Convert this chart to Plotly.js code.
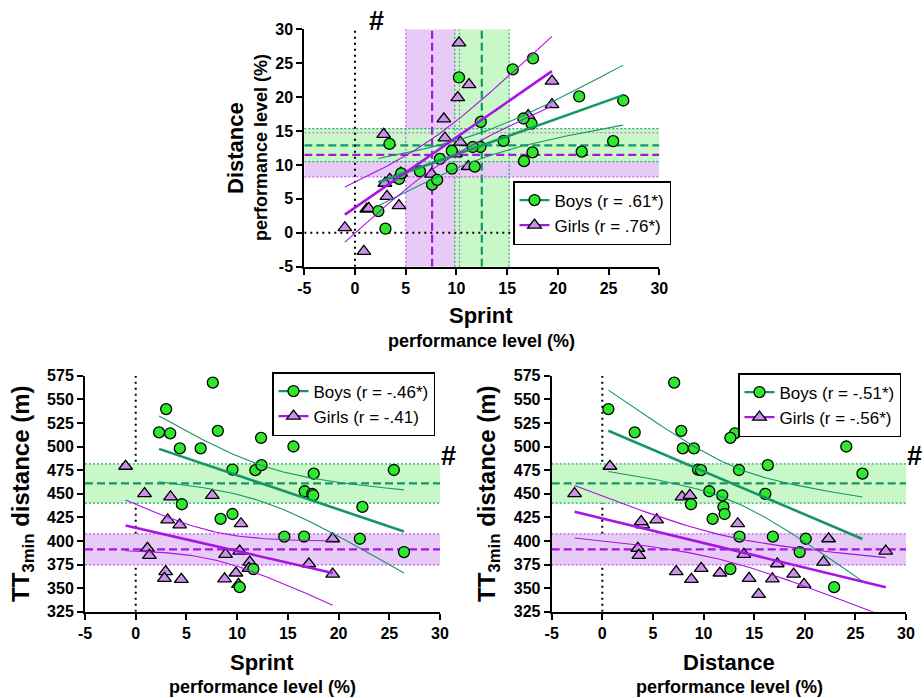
<!DOCTYPE html>
<html><head><meta charset="utf-8">
<script src="https://cdn.plot.ly/plotly-3.0.1.min.js"></script>
<style>html,body{margin:0;padding:0;background:#fff}#chart{width:924px;height:698px}</style>
</head><body><div id="chart"></div>
<script>
// ---------------- data ----------------
const boysSprint   = [7.6, 3.0, 2.3, 3.4, 8.1, 4.35, 6.4, 12.36, 15.55, 9.54, 11.8, 12.4, 17.55, 25.45, 16.66, 17.4, 17.5, 4.55, 22.35, 8.37, 9.54, 14.65, 16.6, 22.1, 26.45, 11.6, 10.25];
const boysDistance = [7.1, 0.6, 3.2, 13.1, 7.8, 7.95, 9.05, 12.65, 24.1, 9.45, 9.75, 16.35, 25.7, 13.5, 10.56, 16.1, 11.85, 8.76, 11.97, 10.9, 12.08, 13.55, 16.85, 20.1, 19.5, 12.65, 22.9];
const boysTT       = [567.7, 539.6, 515, 514, 516.6, 498, 498, 509.2, 500, 475.6, 474.9, 480.2, 471.3, 475.1, 452.6, 449.9, 448.3, 438.8, 436, 423.3, 428.5, 404.5, 404.5, 402.3, 388.2, 370.2, 351];

const girlsSprint   = [-1.0, 0.87, 3.43, 7.55, 3.15, 4.33, null, 10.38, 1.16, 1.35, 8.86, 10.25, 2.95, 2.83, 4.5, 8.76, 9.88, 10.13, 11.24, 11.16, 17.07, 19.42, 19.42, null];
const girlsDistance = [0.75, -2.74, 7.87, 8.65, 5.37, 4.0, 3.84, 13.38, 3.51, 3.61, 13.98, 28.0, 7.3, 14.5, 8.8, 16.8, 11.62, 19.93, 21.85, 9.77, 17.28, 22.35, 18.9, 15.44];
const girlsTT       = [479.1, 450.1, 446.6, 448.3, 422.2, 417, 420.5, 418.2, 392.2, 384.6, 385.7, 389.2, 367.5, 360.4, 359.3, 359.8, 366, 354, 377.5, 371, 375.8, 402.3, 364.8, 343.4];

// group reference lines: [lower 95% CI, mean, upper 95% CI]
const boysSprintRef    = [9.84, 12.5, 15.2];
const girlsSprintRef   = [5.0, 7.6, 10.3];
const boysDistanceRef  = [10.5, 12.9, 15.35];
const girlsDistanceRef = [8.25, 11.5, 14.75];
const boysTTRef        = [440, 461, 481.5];
const girlsTTRef       = [374.5, 391, 407.5];

const pctTicks = [-5, 0, 5, 10, 15, 20, 25, 30];
const ttTicks  = [325, 350, 375, 400, 425, 450, 475, 500, 525, 550, 575];
const boysLabels  = ['Boys (r = .61*)', 'Boys (r = -.46*)', 'Boys (r = -.51*)'];
const girlsLabels = ['Girls (r = .76*)', 'Girls (r = -.41)', 'Girls (r = -.56*)'];

// ---------------- styles ----------------
const FONT = 'Arial, "Liberation Sans", Helvetica, sans-serif';
const G = {fill: 'rgb(200,247,200)', edge: 'rgb(40,165,110)', line: 'rgb(22,150,100)', mk: 'rgb(45,232,45)'};
const P = {fill: 'rgb(232,202,246)', edge: 'rgb(190,90,240)', line: 'rgb(168,20,228)', mk: 'rgb(204,146,234)'};

// ---------------- helpers ----------------
function tCrit(df) {
  const z = 1.959964;
  const g1 = (Math.pow(z,3) + z) / 4;
  const g2 = (5*Math.pow(z,5) + 16*Math.pow(z,3) + 3*z) / 96;
  const g3 = (3*Math.pow(z,7) + 19*Math.pow(z,5) + 17*Math.pow(z,3) - 15*z) / 384;
  return z + g1/df + g2/(df*df) + g3/(df*df*df);
}
function fit(xs, ys) {
  const px = [], py = [];
  xs.forEach((x, i) => { if (x != null && ys[i] != null) { px.push(x); py.push(ys[i]); } });
  const n = px.length;
  const mx = px.reduce((a,b)=>a+b,0)/n, my = py.reduce((a,b)=>a+b,0)/n;
  let sxx = 0, sxy = 0;
  for (let i=0;i<n;i++){ sxx += (px[i]-mx)**2; sxy += (px[i]-mx)*(py[i]-my); }
  const b = sxy/sxx, a = my - b*mx;
  let sse = 0; for (let i=0;i<n;i++){ sse += (py[i]-a-b*px[i])**2; }
  const s = Math.sqrt(sse/(n-2)), t = tCrit(n-2);
  const lo = Math.min(...px), hi = Math.max(...px);
  const gx = [], gy = [], gu = [], gl = [];
  const N = 80;
  for (let k=0;k<=N;k++){
    const x = lo + (hi-lo)*k/N, y = a + b*x;
    const se = s*Math.sqrt(1/n + (x-mx)**2/sxx);
    gx.push(x); gy.push(y); gu.push(y + t*se); gl.push(y - t*se);
  }
  return {gx, gy, gu, gl};
}

const panels = [
  {xa:'x',  ya:'y',  bx:boysSprint,   by:boysDistance, gx:girlsSprint,   gy:girlsDistance, leg:'legend'},
  {xa:'x2', ya:'y2', bx:boysSprint,   by:boysTT,       gx:girlsSprint,   gy:girlsTT,       leg:'legend2'},
  {xa:'x3', ya:'y3', bx:boysDistance, by:boysTT,       gx:girlsDistance, gy:girlsTT,       leg:'legend3'}
];

const traces = [];
const shapes = [];

function bandH(p, ref, c, xr) {
  shapes.push({type:'rect', xref:p.xa, yref:p.ya, x0:xr[0], x1:xr[1], y0:ref[0], y1:ref[2], fillcolor:c.fill, line:{width:0}, layer:'below'});
}
function bandV(p, ref, c, yr) {
  shapes.push({type:'rect', xref:p.xa, yref:p.ya, y0:yr[0], y1:yr[1], x0:ref[0], x1:ref[2], fillcolor:c.fill, line:{width:0}, layer:'below'});
}
function linesH(p, ref, c, xr) {
  [ref[0], ref[2]].forEach(v => shapes.push({type:'line', xref:p.xa, yref:p.ya, x0:xr[0], x1:xr[1], y0:v, y1:v, line:{color:c.edge, width:1.2, dash:'2px,2px'}, layer:'below'}));
  shapes.push({type:'line', xref:p.xa, yref:p.ya, x0:xr[0], x1:xr[1], y0:ref[1], y1:ref[1], line:{color:c.line, width:2.2, dash:'8px,4px'}, layer:'below'});
}
function linesV(p, ref, c, yr) {
  [ref[0], ref[2]].forEach(v => shapes.push({type:'line', xref:p.xa, yref:p.ya, y0:yr[0], y1:yr[1], x0:v, x1:v, line:{color:c.edge, width:1.2, dash:'2px,2px'}, layer:'below'}));
  shapes.push({type:'line', xref:p.xa, yref:p.ya, y0:yr[0], y1:yr[1], x0:ref[1], x1:ref[1], line:{color:c.line, width:2.2, dash:'8px,4px'}, layer:'below'});
}
function zeroV(p, yr) {
  shapes.push({type:'line', xref:p.xa, yref:p.ya, x0:0, x1:0, y0:yr[0], y1:yr[1], line:{color:'black', width:2, dash:'2px,4px'}, layer:'below'});
}
function zeroH(p, xr) {
  shapes.push({type:'line', xref:p.xa, yref:p.ya, y0:0, y1:0, x0:xr[0], x1:xr[1], line:{color:'black', width:2, dash:'2px,4px'}, layer:'below'});
}

const XR = [-5, 30];
// top panel
bandV(panels[0], girlsSprintRef, P, [-5,30]);
bandV(panels[0], boysSprintRef, G, [-5,30]);
bandH(panels[0], girlsDistanceRef, P, XR);
bandH(panels[0], boysDistanceRef, G, XR);
linesV(panels[0], girlsSprintRef, P, [-5,30]);
linesV(panels[0], boysSprintRef, G, [-5,30]);
linesH(panels[0], girlsDistanceRef, P, XR);
linesH(panels[0], boysDistanceRef, G, XR);
zeroV(panels[0], [-5,30]);
zeroH(panels[0], XR);
// bottom panels
[panels[1], panels[2]].forEach(p => {
  zeroV(p, [325,575]);
  bandH(p, girlsTTRef, P, XR);
  bandH(p, boysTTRef, G, XR);
  linesH(p, girlsTTRef, P, XR);
  linesH(p, boysTTRef, G, XR);
});

panels.forEach((p, i) => {
  const common = {xaxis:p.xa, yaxis:p.ya, hoverinfo:'skip', showlegend:false};
  // data points
  traces.push(Object.assign({type:'scatter', mode:'markers', x:p.gx, y:p.gy,
    marker:{symbol:'triangle-up', size:12, color:P.mk, line:{color:'black', width:1.3}}}, common));
  traces.push(Object.assign({type:'scatter', mode:'markers', x:p.bx, y:p.by,
    marker:{symbol:'circle', size:11, color:G.mk, line:{color:'black', width:1.3}}}, common));
  // regression + 95% CI
  [[p.bx, p.by, G], [p.gx, p.gy, P]].forEach(([xs, ys, c]) => {
    const f = fit(xs, ys);
    traces.push(Object.assign({type:'scatter', mode:'lines', x:f.gx, y:f.gu, line:{color:c.line, width:1.1}}, common));
    traces.push(Object.assign({type:'scatter', mode:'lines', x:f.gx, y:f.gl, line:{color:c.line, width:1.1}}, common));
    traces.push(Object.assign({type:'scatter', mode:'lines', x:f.gx, y:f.gy, line:{color:c.line, width:2.6}}, common));
  });
  // legend entries
  traces.push({type:'scatter', mode:'lines+markers', x:[null], y:[null], xaxis:p.xa, yaxis:p.ya, name:boysLabels[i],
    legend:p.leg, line:{color:G.line, width:2.2}, marker:{symbol:'circle', size:11, color:G.mk, line:{color:'black', width:1.3}}});
  traces.push({type:'scatter', mode:'lines+markers', x:[null], y:[null], xaxis:p.xa, yaxis:p.ya, name:girlsLabels[i],
    legend:p.leg, line:{color:P.line, width:2.2}, marker:{symbol:'triangle-up', size:12, color:P.mk, line:{color:'black', width:1.3}}});
});

const W = 924, H = 698;
const px = v => v / W, py = v => 1 - v / H;
const tickFont = {family:FONT, size:16, color:'black', weight:'bold'};
function xax(dom, anchor) {
  return {domain:dom, anchor:anchor, range:[-5,30], tickvals:pctTicks, ticktext:pctTicks.map(String),
    showline:true, linewidth:2, linecolor:'black', ticks:'outside', ticklen:6, tickwidth:2, tickcolor:'black',
    showgrid:false, zeroline:false, tickfont:tickFont, fixedrange:true};
}
function yax(dom, anchor, range, ticks) {
  return {domain:dom, anchor:anchor, range:range, tickvals:ticks, ticktext:ticks.map(String),
    showline:true, linewidth:2, linecolor:'black', ticks:'outside', ticklen:6, tickwidth:2, tickcolor:'black',
    showgrid:false, zeroline:false, tickfont:tickFont, fixedrange:true};
}

function legendAt(x, y) {
  return {x:px(x), y:py(y), xanchor:'left', yanchor:'top', bgcolor:'white', bordercolor:'black', borderwidth:1.5,
    font:{family:FONT, size:17, color:'black'}, tracegroupgap:0, itemwidth:30, traceorder:'normal'};
}

function ann(text, x, y, size, rot) {
  return {text:text, xref:'paper', yref:'paper', x:px(x), y:py(y), xanchor:'center', yanchor:'middle',
    showarrow:false, textangle:rot || 0, font:{family:FONT, size:size, color:'black', weight:'bold'}};
}

const layout = {
  width:W, height:H, margin:{l:0, r:0, t:0, b:0}, paper_bgcolor:'white', plot_bgcolor:'rgba(0,0,0,0)',
  showlegend:true,
  xaxis:  xax([px(304.3), px(659.3)], 'y'),
  yaxis:  yax([py(266.7), py(29.3)], 'x', [-5,30], pctTicks),
  xaxis2: xax([px(85), px(440)], 'y2'),
  yaxis2: yax([py(611.7), py(375.7)], 'x2', [325,575], ttTicks),
  xaxis3: xax([px(551.7), px(906)], 'y3'),
  yaxis3: yax([py(611.7), py(375.7)], 'x3', [325,575], ttTicks),
  legend:  legendAt(513, 181),
  legend2: legendAt(272, 372),
  legend3: legendAt(738, 373),
  shapes: shapes,
  annotations: [
    ann('Sprint', 481, 315, 22),
    ann('performance level (%)', 481, 341, 18),
    ann('Distance', 235, 148, 22, -90),
    ann('performance level (%)', 261, 148, 18, -90),
    ann('Sprint', 262, 662, 22),
    ann('performance level (%)', 262, 687, 18),
    ann('Distance', 729, 662, 22),
    ann('performance level (%)', 729, 687, 18),
    ann('TT<sub>3min</sub> distance (m)', 22, 494, 24, -90),
    ann('TT<sub>3min</sub> distance (m)', 488, 494, 24, -90),
    ann('#', 376, 21, 27),
    ann('#', 448, 456, 27),
    ann('#', 914, 456, 27)
  ]
};

Plotly.newPlot('chart', traces, layout, {displayModeBar:false, staticPlot:true});
</script>
</body></html>
